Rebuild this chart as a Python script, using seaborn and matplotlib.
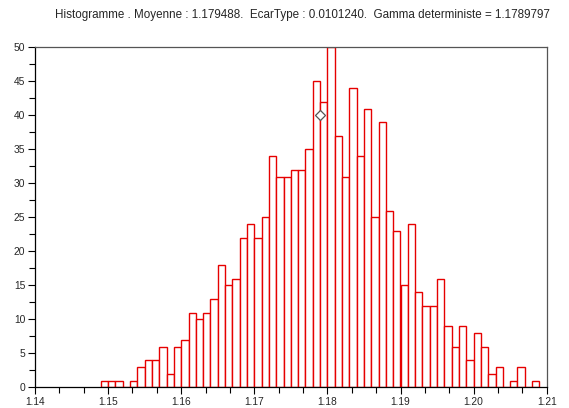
import numpy as np
import pandas as pd
import matplotlib
matplotlib.use("Agg")
import matplotlib.pyplot as plt
from matplotlib.ticker import MultipleLocator, FixedLocator
import seaborn as sns

# Histogram classes: left edge of the first class and class width
first_edge = 1.149
class_width = 0.001

# Number of samples falling in each class (1000 samples in total)
counts = [1, 1, 1, 0, 1, 3, 4, 4, 6, 2,
          6, 7, 11, 10, 11, 13, 18, 15, 16, 22,
          24, 22, 25, 34, 31, 31, 32, 32, 35, 45,
          42, 50, 37, 31, 44, 34, 41, 25, 39, 26,
          23, 15, 24, 14, 12, 12, 16, 9, 6, 9,
          4, 8, 6, 2, 3, 0, 1, 3, 0, 1]

mean_value = 1.179488
std_value = 0.0101240
gamma_det = 1.1789797
gamma_marker_height = 40

x_ticks = [1.14, 1.15, 1.16, 1.17, 1.18, 1.19, 1.20, 1.21]
x_tick_labels = ["1.14", "1.15", "1.16", "1.17", "1.18", "1.19", "1.20", "1.21"]
y_ticks = [0, 5, 10, 15, 20, 25, 30, 35, 40, 45, 50]

n_classes = len(counts)
edges = [first_edge + class_width * i for i in range(n_classes + 1)]
centers = [(a + b) / 2 for a, b in zip(edges[:-1], edges[1:])]
hist_df = pd.DataFrame({"value": centers, "count": [float(c) for c in counts]})

sns.set_style("white")
plt.rcParams["font.family"] = ["Liberation Sans", "DejaVu Sans"]

fig = plt.figure(figsize=(5.69, 4.08), dpi=100)
ax = fig.add_axes([35 / 569, (408 - 387.3) / 408, (546.7 - 35) / 569, 340 / 408])

sns.histplot(data=hist_df, x="value", weights="count", bins=edges, stat="count",
             color="white", edgecolor="#e60000", linewidth=1.0, alpha=1.0,
             ax=ax)

ax.plot([gamma_det], [gamma_marker_height], marker="D", markersize=5,
        markerfacecolor="white", markeredgecolor="#555555",
        markeredgewidth=0.9, linestyle="none")

ax.set_xlim(1.14, 1.21)
ax.set_ylim(0, 50)
ax.set_xlabel("")
ax.set_ylabel("")

ax.set_xticks(x_ticks)
ax.set_xticklabels(x_tick_labels)
minor_x = []
for a, b in zip(x_ticks[:-1], x_ticks[1:]):
    minor_x += [a + (b - a) / 3, a + 2 * (b - a) / 3]
ax.xaxis.set_minor_locator(FixedLocator(minor_x))
ax.set_yticks(y_ticks)
ax.yaxis.set_minor_locator(MultipleLocator(2.5))

ax.tick_params(axis="both", which="major", direction="out", length=5,
               width=0.8, color="black", labelsize=7.4, pad=2,
               bottom=True, left=True)
ax.tick_params(axis="both", which="minor", direction="out", length=4,
               width=0.8, color="black", bottom=True, left=True)

for side in ["left", "bottom"]:
    ax.spines[side].set_color("black")
    ax.spines[side].set_linewidth(0.9)
for side in ["top", "right"]:
    ax.spines[side].set_visible(True)
    ax.spines[side].set_color("#555555")
    ax.spines[side].set_linewidth(0.9)

title = ("Histogramme . Moyenne : %.6f.  EcarType : %.7f.  Gamma deterministe = %.7f"
         % (mean_value, std_value, gamma_det))
fig.text(302 / 569, 1 - 15 / 408, title, ha="center", va="center", fontsize=8.4)

fig.savefig("out.png", dpi=100, facecolor="white")
